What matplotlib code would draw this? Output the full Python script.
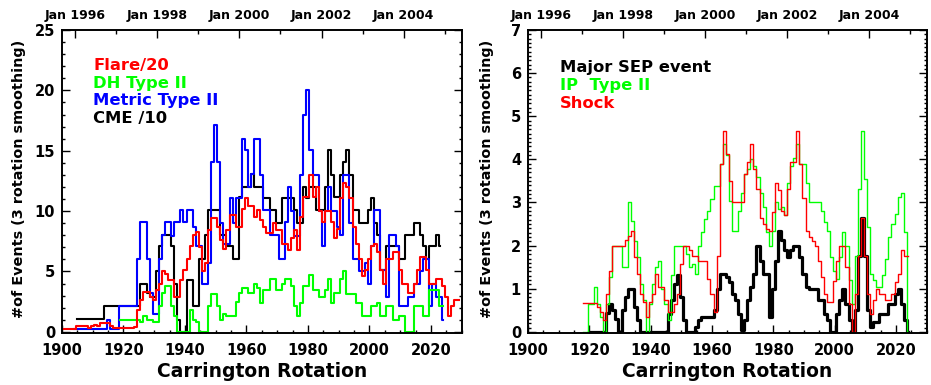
import matplotlib
matplotlib.use("Agg")
import matplotlib.pyplot as plt
import numpy as np
from matplotlib.ticker import MultipleLocator

plt.rcParams["font.family"] = ["DejaVu Sans"]
plt.rcParams["font.weight"] = "bold"

# ---- left panel: events per Carrington rotation (3 rotation smoothing) ----
flare_start = 1900
flare_20 = [
    0.2, 0.2, 0.2, 0.2, 0.2, 0.5, 0.5, 0.5, 0.5, 0.3,
    0.5, 0.6, 0.5, 0.7, 0.7, 0.7, 0.5, 0.3, 0.3, 0.3,
    0.3, 0.3, 0.3, 0.3, 0.4, 1.8, 2.6, 3.3, 3.3, 2.9,
    2.6, 3.5, 4.0, 5.0, 4.8, 4.3, 4.3, 2.9, 2.9, 4.3,
    5.1, 6.0, 7.1, 8.0, 8.3, 7.0, 5.0, 5.7, 8.4, 9.4,
    9.4, 8.7, 7.6, 6.9, 8.4, 9.7, 9.7, 8.7, 8.7, 10.2,
    11.1, 10.4, 10.4, 9.5, 10.1, 9.3, 8.7, 8.2, 8.2, 9.0,
    8.4, 8.4, 7.3, 7.3, 6.8, 7.8, 8.4, 6.8, 9.5, 11.2,
    11.2, 13.0, 11.2, 12.0, 10.0, 9.1, 10.0, 10.0, 9.1, 7.8,
    8.5, 11.1, 12.3, 12.0, 11.1, 8.7, 7.3, 6.0, 4.6, 5.1,
    6.0, 7.1, 7.3, 6.6, 5.1, 4.0, 6.0, 6.0, 6.6, 6.6,
    5.1, 4.0, 4.0, 3.2, 3.2, 4.0, 5.1, 6.2, 6.2, 5.1,
    4.0, 4.0, 4.4, 4.4, 3.8, 2.9, 1.3, 2.1, 2.6, 2.6,
]

metric_start = 1904
metric_type2 = [
    0.2, 0.2, 0.2, 0.2, 0.2, 0.2,
    0.2, 0.2, 0.2, 0.2, 0.2, 1.0, 0.2, 0.2, 0.2, 2.1,
    2.1, 2.1, 2.1, 2.1, 2.1, 6.0, 9.1, 9.1, 6.0, 3.2,
    1.5, 1.5, 6.0, 8.0, 9.1, 9.1, 7.9, 9.1, 9.1, 10.1,
    9.1, 10.1, 10.1, 8.7, 7.1, 7.1, 4.0, 4.0, 5.7, 14.1,
    17.1, 14.1, 9.0, 7.3, 7.3, 11.1, 9.0, 11.1, 11.1, 16.0,
    15.1, 12.0, 13.1, 16.0, 16.0, 13.0, 10.1, 10.1, 8.0, 8.0,
    8.0, 6.0, 6.0, 9.1, 12.0, 10.0, 7.9, 7.9, 13.0, 18.0,
    20.0, 15.1, 13.0, 13.0, 10.0, 7.1, 10.0, 12.0, 10.0, 10.0,
    8.7, 8.0, 13.0, 13.0, 9.0, 6.0, 6.0, 5.0, 5.0, 5.7,
    4.0, 7.1, 10.1, 10.1, 5.1, 5.1, 2.9, 8.0, 8.0, 7.1,
    2.1, 2.1, 2.1, 2.9, 2.9, 4.0, 4.0, 5.0, 6.0, 6.0,
    2.1, 4.0, 2.9, 2.9, 1.0,
]

cme_start = 1905
cme_10 = [
    1.05, 1.05, 1.05, 1.05, 1.05,
    1.05, 1.05, 1.05, 1.05, 2.1, 2.1, 2.1, 2.1, 2.1, 2.1,
    2.1, 2.1, 2.1, 2.1, 2.1, 2.1, 4.0, 4.0, 3.2, 2.9,
    2.9, 5.0, 7.1, 8.0, 8.0, 8.0, 7.1, 4.0, 1.0, 0.0,
    0.0, 4.3, 4.3, 2.1, 2.1, 6.0, 6.0, 8.0, 10.1, 10.1,
    10.1, 10.1, 8.0, 8.0, 7.1, 7.1, 6.0, 6.0, 11.2, 12.0,
    12.0, 12.0, 13.1, 12.0, 12.0, 12.0, 11.1, 11.1, 10.1, 10.1,
    9.0, 9.0, 11.1, 11.1, 11.1, 11.1, 10.1, 9.0, 9.0, 12.0,
    11.1, 12.0, 12.0, 10.1, 10.1, 10.1, 12.0, 15.1, 13.0, 11.2,
    11.2, 13.0, 14.1, 15.1, 13.0, 10.1, 10.1, 9.0, 9.0, 9.0,
    10.1, 11.1, 9.0, 8.0, 5.1, 5.1, 7.1, 7.1, 7.1, 7.1,
    6.0, 6.0, 8.0, 8.0, 8.0, 9.0, 9.0, 8.0, 7.1, 6.0,
    7.1, 7.1, 8.0, 7.1,
]

dh_start = 1919
dh_type2 = [
    1.0,
    1.0, 1.0, 1.0, 1.0, 1.0, 1.0, 0.8, 1.3, 1.0, 1.0,
    0.8, 0.8, 2.1, 3.2, 3.8, 3.8, 2.1, 1.3, 0.0, 0.0,
    0.0, 0.0, 1.8, 1.0, 0.8, 0.0, 0.0, 0.0, 2.1, 3.1,
    3.1, 2.1, 1.0, 1.5, 1.3, 1.3, 1.3, 2.5, 3.2, 3.6,
    3.6, 3.2, 3.2, 4.0, 3.6, 2.4, 3.5, 3.5, 4.4, 4.4,
    3.5, 3.5, 4.0, 4.4, 4.4, 3.8, 2.1, 1.3, 2.4, 3.8,
    3.8, 4.7, 3.5, 3.5, 2.9, 2.9, 3.5, 4.4, 2.4, 3.2,
    3.2, 4.4, 5.0, 3.1, 3.1, 3.1, 2.4, 2.4, 1.3, 1.3,
    1.3, 2.1, 2.1, 2.4, 1.3, 1.3, 2.1, 2.1, 1.0, 1.0,
    1.3, 1.3, 0.0, 0.0, 0.0, 2.1, 2.1, 2.1, 1.3, 1.3,
    3.5, 3.5, 3.5, 2.1, 2.1,
]

# ---- right panel ----
shock_start = 1918
shock = [
    0.68, 0.68,
    0.68, 0.68, 0.68, 0.58, 0.45, 0.27, 0.88, 1.42, 2.0, 2.0,
    2.0, 2.0, 2.12, 2.23, 2.35, 1.73, 1.35, 0.88, 0.69, 0.35,
    0.69, 0.88, 1.35, 1.04, 1.04, 0.73, 0.46, 0.46, 0.65, 0.88,
    1.58, 2.0, 2.0, 1.89, 1.77, 1.77, 1.65, 1.65, 1.65, 1.23,
    0.88, 0.46, 1.77, 3.9, 4.66, 4.12, 3.5, 3.0, 3.0, 3.0,
    3.0, 3.66, 3.93, 4.35, 3.77, 3.31, 2.65, 2.5, 2.39, 2.35,
    2.77, 3.46, 3.3, 2.8, 2.7, 3.31, 3.93, 3.93, 4.66, 3.9,
    3.1, 2.35, 2.2, 2.1, 2.0, 1.65, 1.27, 0.88, 0.69, 0.69,
    1.19, 1.65, 2.0, 2.0, 1.5, 0.65, 0.0, 0.88, 1.77, 2.65,
    1.77, 0.88, 0.42, 0.73, 1.0, 0.88, 0.88, 0.73, 0.73, 0.88,
    1.15, 1.35, 1.89, 1.77, 1.77,
]

ip_start = 1918
ip_type2 = [
    0.0, 0.0,
    0.65, 0.65, 1.04, 0.65, 0.34, 0.0, 0.65, 1.27, 2.0, 2.0,
    2.0, 1.5, 1.5, 3.0, 2.58, 2.1, 1.73, 1.12, 0.73, 0.0,
    0.65, 1.1, 1.5, 1.65, 1.0, 0.65, 0.27, 1.31, 2.0, 2.0,
    2.0, 2.0, 1.81, 1.5, 1.58, 1.35, 2.0, 2.31, 2.62, 2.81,
    3.08, 3.39, 3.39, 3.9, 4.35, 4.1, 3.04, 2.35, 2.35, 2.81,
    3.23, 3.66, 3.77, 4.0, 3.85, 3.58, 3.23, 2.89, 2.31, 2.0,
    2.35, 3.0, 2.85, 2.9, 2.7, 3.46, 3.85, 4.04, 4.35, 3.9,
    3.9, 3.46, 3.0, 3.0, 3.0, 3.0, 2.81, 2.54, 2.35, 1.73,
    1.42, 1.23, 1.73, 2.31, 2.0, 1.2, 0.65, 1.77, 3.31, 4.66,
    3.54, 2.42, 1.35, 1.2, 1.04, 1.04, 1.31, 1.69, 2.2, 2.5,
    2.73, 3.12, 3.23, 2.31, 0.0,
]

sep_start = 1920
major_sep = [
    0, 0, 0, 0, 0, 0, 0.43, 0.65, 0.5, 0.3,
    0.0, 0.5, 0.8, 1.0, 1.0, 0.58, 0.27, 0, 0, 0,
    0, 0, 0, 0, 0, 0, 0.42, 0.73, 1.12, 1.31,
    0.8, 0.27, 0, 0, 0, 0.12, 0.27, 0.35, 0.35, 0.35,
    0.35, 0.5, 1.0, 1.35, 1.35, 1.27, 1.15, 0.88, 0.73, 0.42,
    0.04, 0.27, 0.73, 1.04, 1.35, 2.0, 1.65, 1.35, 1.35, 0.35,
    1.0, 1.65, 2.35, 2.12, 1.89, 1.73, 1.89, 2.0, 2.0, 1.73,
    1.35, 1.04, 1.0, 1.0, 1.0, 0.73, 0.73, 0.42, 0.27, 0.0,
    0.0, 0.42, 0.73, 1.0, 0.65, 0.27, 0.0, 0.5, 1.77, 2.65,
    1.77, 0.5, 0.12, 0.23, 0.23, 0.42, 0.42, 0.42, 0.65, 0.65,
    0.88, 1.0, 0.65, 0.27, 0.0,
]

# top axis: Jan of each year in Carrington rotation number
years = [1996, 1997, 1998, 1999, 2000, 2001, 2002, 2003, 2004, 2005]
cr_jan1996 = 1904.2
rot_per_year = 13.37


def cr(start, vals):
    return np.arange(start, start + len(vals))


def style_axes(ax, ymax, ymajor, yminor):
    ax.set_xlim(1900, 2030)
    ax.set_ylim(-0.004 * ymax, ymax)
    ax.xaxis.set_major_locator(MultipleLocator(20))
    ax.xaxis.set_minor_locator(MultipleLocator(5))
    ax.yaxis.set_major_locator(MultipleLocator(ymajor))
    ax.yaxis.set_minor_locator(MultipleLocator(yminor))
    ax.tick_params(which="both", direction="in", top=False, right=True, width=1.0)
    ax.tick_params(which="major", length=5.5)
    ax.tick_params(which="minor", length=2.5)
    ax.tick_params(axis="x", labelsize=10.5, pad=7)
    ax.tick_params(axis="y", labelsize=10.5, pad=5)
    for s in ax.spines.values():
        s.set_linewidth(1.2)

    top = ax.twiny()
    top.set_xlim(ax.get_xlim())
    ticks = [cr_jan1996 + (y - 1996) * rot_per_year for y in years]
    top.set_xticks([t for t, y in zip(ticks, years) if y % 2 == 0])
    top.set_xticklabels([f"Jan {y}" for y in years if y % 2 == 0], fontsize=9, fontweight="bold")
    top.set_xticks([t for t, y in zip(ticks, years) if y % 2 == 1], minor=True)
    top.tick_params(which="both", direction="in", width=1.0, pad=6)
    top.tick_params(which="major", length=5.5)
    top.tick_params(which="minor", length=3)
    for s in top.spines.values():
        s.set_linewidth(1.2)


fig = plt.figure(figsize=(9.31, 3.85), dpi=100)
ax1 = fig.add_axes([0.0666, 0.135, 0.4293, 0.787])
ax2 = fig.add_axes([0.5671, 0.135, 0.4283, 0.787])

ax1.plot(cr(cme_start, cme_10), cme_10, drawstyle="steps-mid", color="black", lw=1.5)
ax1.plot(cr(metric_start, metric_type2), metric_type2, drawstyle="steps-mid", color="#0000ff", lw=1.5)
ax1.plot(cr(dh_start, dh_type2), dh_type2, drawstyle="steps-mid", color="#00ff00", lw=1.5)
ax1.plot(cr(flare_start, flare_20), flare_20, drawstyle="steps-mid", color="#ff0000", lw=1.5)
style_axes(ax1, 25, 5, 1)

legend1 = [("Flare/20", "#ff0000"), ("DH Type II", "#00ff00"),
           ("Metric Type II", "#0000ff"), ("CME /10", "black")]
for i, (txt, col) in enumerate(legend1):
    ax1.text(0.078, 0.868 - i * 0.0585, txt, color=col, fontsize=11.8,
             fontweight="bold", transform=ax1.transAxes, va="baseline")

ax2.plot(cr(sep_start, major_sep), major_sep, drawstyle="steps-mid", color="black", lw=2.3)
ax2.plot(cr(ip_start, ip_type2), ip_type2, drawstyle="steps-mid", color="#00ff00", lw=1.0)
ax2.plot(cr(shock_start, shock), shock, drawstyle="steps-mid", color="#ff0000", lw=1.0)
style_axes(ax2, 7, 1, 0.1)

legend2 = [("Major SEP event", "black"), ("IP  Type II", "#00ff00"), ("Shock", "#ff0000")]
for i, (txt, col) in enumerate(legend2):
    ax2.text(0.08, 0.862 - i * 0.0595, txt, color=col, fontsize=11.8,
             fontweight="bold", transform=ax2.transAxes, va="baseline")

for ax, lx in ((ax1, 19), (ax2, 487)):
    fig.text(lx / 931, 0.535, "#of Events (3 rotation smoothing)", rotation=90,
             ha="center", va="center", fontsize=10.4, fontweight="bold")
    pos = ax.get_position()
    fig.text(pos.x0 + pos.width / 2, 0.036, "Carrington Rotation",
             ha="center", va="center", fontsize=13.5, fontweight="bold")

fig.savefig("out.png", dpi=100)
